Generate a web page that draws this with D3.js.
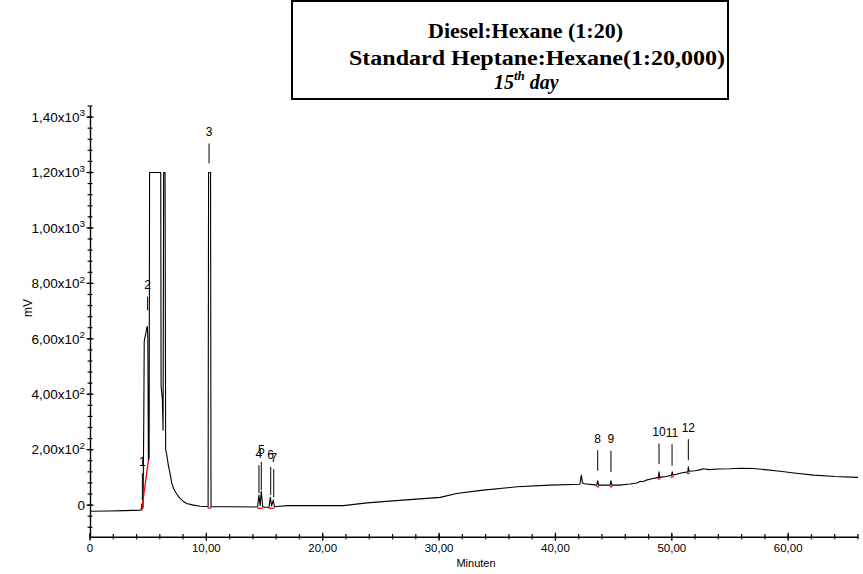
<!DOCTYPE html>
<html><head><meta charset="utf-8">
<script src="https://cdn.jsdelivr.net/npm/d3@7"></script>
<style>body{margin:0;background:#fff}</style>
</head><body>
<svg id="c" width="863" height="574"></svg>
<script>
// ---- data ----
const titleLine1 = "Diesel:Hexane (1:20)";
const titleLine2 = "Standard Heptane:Hexane(1:20,000)";
const dayParts = ["15", "th", " day"];
const xLabel = "Minuten";
const yLabel = "mV";
const xMajorTicks = [0, 10, 20, 30, 40, 50, 60];
const xTickLabels = ["0", "10,00", "20,00", "30,00", "40,00", "50,00", "60,00"];
const yMajorTicks = [0, 200, 400, 600, 800, 1000, 1200, 1400];
const yTickMantissa = ["0", "2,00x10", "4,00x10", "6,00x10", "8,00x10", "1,00x10", "1,20x10", "1,40x10"];
const yTickExponent = ["", "2", "2", "2", "2", "3", "3", "3"];

const times = [0, 1.5, 3, 4.3, 4.40, 4.45, 4.50, 4.56, 4.62, 4.66, 4.72, 4.80, 4.88, 4.93, 4.97, 5.02, 5.08, 5.12,
  6.08, 6.11, 6.22, 6.28, 6.33, 6.45, 6.50, 6.60, 6.75, 6.90, 7.02, 7.20, 7.45, 7.70, 8.00, 8.30, 8.90, 9.50,
  10.15, 10.19, 10.36, 10.40, 10.60, 12.0, 14.20, 14.40, 14.52, 14.62, 14.72, 14.84, 15.00, 15.38, 15.50, 15.60,
  15.75, 15.85, 16.0, 17.0, 18.0, 20.0, 21.8, 23.8, 26.6, 30.1, 31.5, 33.8, 36.7, 39.5, 42.1, 42.22, 42.32, 42.5,
  43.55, 43.63, 43.71, 44.70, 44.77, 44.84, 45.5, 46.4, 47.0, 47.3, 47.5, 47.8, 48.2, 48.85, 48.9, 48.96, 49.5,
  49.98, 50.03, 50.1, 50.8, 51.38, 51.42, 51.48, 52.0, 52.5, 52.7, 53.2, 54.0, 55.0, 56.0, 57.0, 58.0, 59.3,
  60.5, 62.2, 64.0, 66.0];
const signal = [-22, -21, -20, -18, -17, 4, -12, -10, 300, 590, 605, 620, 640, 645, 600, 160, 170, 1200,
  1200, 430, 380, 270, 1200, 1200, 200, 180, 140, 110, 80, 58, 40, 26, 14, 6, 0, -4,
  -6, 1200, 1200, -6, -6, -6, -7, -7, 36, -2, 50, -5, -8, -8, 28, -3,
  18, -6, -5, -2, -2, -2, -2, 8, 17, 28, 42, 54, 66, 72, 75, 108, 80, 77,
  72, 88, 72, 72, 88, 72, 72, 76, 80, 86, 84, 90, 94, 100, 120, 100, 103,
  108, 120, 108, 116, 120, 138, 122, 124, 128, 131, 128, 130, 131, 133, 132, 128, 122,
  116, 108, 103, 100];

const peakIds = ["1", "2", "3", "4", "5", "6", "7", "8", "9", "10", "11", "12"];
const peakTimes = [4.5, 4.95, 10.23, 14.52, 14.72, 15.53, 15.79, 43.63, 44.77, 48.9, 50.02, 51.42];
const peakMarkTop = [115, 752, 1305, 144, 156, 138, 130, 198, 196, 222, 220, 238];
const peakMarkBottom = [18, 703, 1233, 43, 54, 36, 29, 124, 120, 148, 142, 162];

// integration baselines (red): start time, start mV, end time, end mV
const baseStartT = [4.44, 10.12, 14.38, 15.36, 43.52, 44.68, 48.78, 49.88, 51.3];
const baseStartV = [-16, -7, -8, -8, 70, 70, 97, 104, 117];
const baseEndT = [5.02, 10.45, 14.86, 15.86, 43.76, 44.9, 49.02, 50.16, 51.56];
const baseEndV = [165, -7, -7, -7, 70, 70, 99, 106, 119];

// ---- drawing ----
const svg = d3.select('#c');
const font = '"Liberation Sans", Arial, sans-serif';
const x = d3.scaleLinear().domain([0, 66]).range([90, 858]);
const y = d3.scaleLinear().domain([-114, 1440]).range([536.7, 106]);

// title box
const defs = svg.append('defs');
defs.append('clipPath').attr('id', 'tclip').append('rect')
  .attr('x', 292).attr('y', 0).attr('width', 436).attr('height', 94);
svg.append('rect').attr('x', 292).attr('y', 1).attr('width', 436).attr('height', 98)
  .attr('fill', '#fff').attr('stroke', '#000').attr('stroke-width', 2);
const tg = svg.append('g').attr('clip-path', 'url(#tclip)')
  .attr('font-family', '"Liberation Serif", "Times New Roman", serif')
  .attr('font-weight', 'bold').attr('font-size', 20).attr('fill', '#000');
tg.append('text').attr('x', 428).attr('y', 38)
  .attr('textLength', 195).attr('lengthAdjust', 'spacingAndGlyphs').text(titleLine1);
tg.append('text').attr('x', 349).attr('y', 65)
  .attr('textLength', 376).attr('lengthAdjust', 'spacingAndGlyphs').text(titleLine2);
const dt = tg.append('text').attr('x', 494).attr('y', 89).attr('font-style', 'italic').attr('font-size', 20);
dt.append('tspan').text(dayParts[0]);
dt.append('tspan').attr('dy', -9).attr('font-size', 13).text(dayParts[1]);
dt.append('tspan').attr('dy', 9).text(dayParts[2]);

// axes
const yMinor = d3.range(-80, 1441, 40);
const xMinor = d3.range(0, 66.01, 2);

const yAxisG = svg.append('g').attr('transform', 'translate(90,0)')
  .call(d3.axisLeft(y).tickValues([]).tickSizeOuter(0));
yAxisG.select('.domain').attr('stroke', '#000').attr('stroke-width', 1.4);
yAxisG.selectAll('line.mn').data(yMinor).join('line').attr('class', 'mn')
  .attr('x1', -2.4).attr('x2', 2.4).attr('y1', d => y(d)).attr('y2', d => y(d))
  .attr('stroke', '#000').attr('stroke-width', 1.2);
yAxisG.selectAll('line.mj').data(yMajorTicks).join('line').attr('class', 'mj')
  .attr('x1', -3.5).attr('x2', 3.5).attr('y1', d => y(d)).attr('y2', d => y(d))
  .attr('stroke', '#000').attr('stroke-width', 1.2);
const yl = yAxisG.selectAll('text.yl').data(yMajorTicks).join('text').attr('class', 'yl')
  .attr('transform', d => `translate(-5,${y(d) + 4.8}) scale(1.1,1)`).attr('text-anchor', 'end')
  .attr('font-family', font).attr('font-size', 12.3).attr('fill', '#000');
yl.append('tspan').text((d, i) => yTickMantissa[i]);
yl.append('tspan').attr('dy', -5.5).attr('font-size', 9).text((d, i) => yTickExponent[i]);

const xAxisG = svg.append('g').attr('transform', 'translate(0,536.7)')
  .call(d3.axisBottom(x).tickValues([]).tickSizeOuter(0));
xAxisG.select('.domain').attr('stroke', '#000').attr('stroke-width', 1.4);
xAxisG.selectAll('line.mn').data(xMinor).join('line').attr('class', 'mn')
  .attr('y1', -2.6).attr('y2', 2.6).attr('x1', d => x(d)).attr('x2', d => x(d))
  .attr('stroke', '#000').attr('stroke-width', 1.2);
xAxisG.selectAll('line.mj').data(xMajorTicks).join('line').attr('class', 'mj')
  .attr('y1', -4).attr('y2', 4).attr('x1', d => x(d)).attr('x2', d => x(d))
  .attr('stroke', '#000').attr('stroke-width', 1.2);
xAxisG.selectAll('text.xl').data(xMajorTicks).join('text').attr('class', 'xl')
  .attr('x', d => x(d)).attr('y', 15).attr('text-anchor', 'middle')
  .attr('font-family', font).attr('font-size', 11.5).attr('fill', '#000')
  .text((d, i) => xTickLabels[i]);

svg.append('text').attr('x', 476).attr('y', 567).attr('text-anchor', 'middle')
  .attr('font-family', font).attr('font-size', 11).text(xLabel);
svg.append('text').attr('transform', 'translate(32,308) rotate(-90)').attr('text-anchor', 'middle')
  .attr('font-family', font).attr('font-size', 12).text(yLabel);

// trace
const pts = times.map((t, i) => [t, signal[i]]);
svg.append('path').datum(pts)
  .attr('d', d3.line().x(d => x(d[0])).y(d => y(d[1])))
  .attr('fill', 'none').attr('stroke', '#000').attr('stroke-width', 1.1).attr('stroke-linejoin', 'round');

// integration baselines
svg.selectAll('line.base').data(baseStartT).join('line').attr('class', 'base')
  .attr('x1', (d, i) => x(baseStartT[i])).attr('y1', (d, i) => y(baseStartV[i]) + 1)
  .attr('x2', (d, i) => x(baseEndT[i])).attr('y2', (d, i) => y(baseEndV[i]) + 1)
  .attr('stroke', '#ff0000').attr('stroke-width', 1.3);

// peak labels
const pk = svg.append('g');
pk.selectAll('line').data(peakIds).join('line')
  .attr('x1', (d, i) => x(peakTimes[i])).attr('x2', (d, i) => x(peakTimes[i]))
  .attr('y1', (d, i) => y(peakMarkTop[i])).attr('y2', (d, i) => y(peakMarkBottom[i]))
  .attr('stroke', '#000').attr('stroke-width', 1);
pk.selectAll('text').data(peakIds).join('text')
  .attr('x', (d, i) => x(peakTimes[i])).attr('y', (d, i) => y(peakMarkTop[i]) - 7.5)
  .attr('text-anchor', 'middle').attr('font-family', font).attr('font-size', 12)
  .text(d => d);
</script>
</body></html>
